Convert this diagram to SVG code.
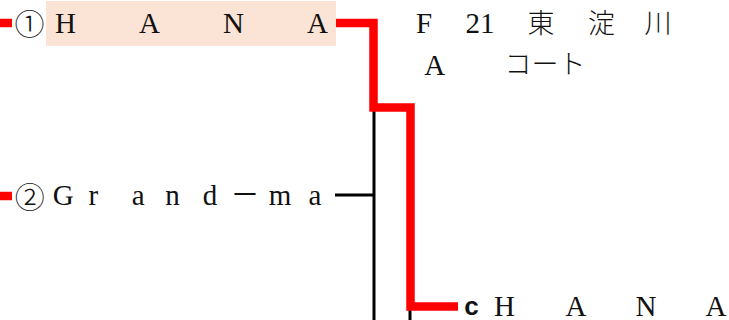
<svg xmlns="http://www.w3.org/2000/svg" width="729" height="320" viewBox="0 0 729 320">
<style>
.lat{font-family:"Liberation Serif","Noto Sans CJK JP",serif;font-size:29px;fill:#111;text-anchor:middle}
.cjk{font-family:"Noto Sans CJK JP",sans-serif;font-size:27px;fill:#111;text-anchor:middle;font-weight:300}
.circ{font-family:"Noto Sans CJK JP",sans-serif;font-size:30px;fill:#111;text-anchor:middle;font-weight:300}
.red{fill:none;stroke:#FF0000;stroke-width:8.5;stroke-linejoin:miter;stroke-linecap:butt}
.blk{fill:none;stroke:#000;stroke-width:3}
</style>
<rect width="729" height="320" fill="#fff"/>
<g id="connectors">
<line class="blk" x1="374" y1="104" x2="374" y2="320"/>
<line class="blk" x1="335" y1="195" x2="374" y2="195"/>
<line class="blk" x1="410" y1="306" x2="410" y2="320"/>
<line class="red" x1="0" y1="23" x2="12" y2="23"/>
<line class="red" x1="0" y1="196" x2="12" y2="196"/>
<path class="red" d="M335,23 H373.5 V107.5 H410.5 V306.5 H458"/>
</g>
<g id="entry-1">
<rect x="46" y="1" width="290" height="45" fill="#FBE4D5"/>
<text class="circ" x="29.5" y="35">①</text>
<text class="lat" x="65.5 149.5 233.5 317.5" y="33">HANA</text>
</g>
<g id="entry-2">
<text class="circ" x="29.7" y="208">②</text>
<text class="lat" x="63.3 93.3 138.3 172.5 210 245 280 315" y="205">Grand－ma</text>
</g>
<g id="match-F21">
<text class="lat" x="424" y="33">F</text>
<text class="lat" x="480" y="33">21</text>
<text class="cjk" x="541 601.5 658" y="33" font-size="28">東淀川</text>
<text class="lat" x="434.7" y="75">A</text>
<text class="cjk" x="518 545 572" y="74">コート</text>
</g>
<g id="winner">
<text x="471.5" y="314.5" font-family="'Liberation Sans',sans-serif" font-weight="bold" font-size="26" fill="#111" text-anchor="middle">c</text>
<text class="lat" x="504.5 576 646 716" y="315.5">HANA</text>
</g>
</svg>
